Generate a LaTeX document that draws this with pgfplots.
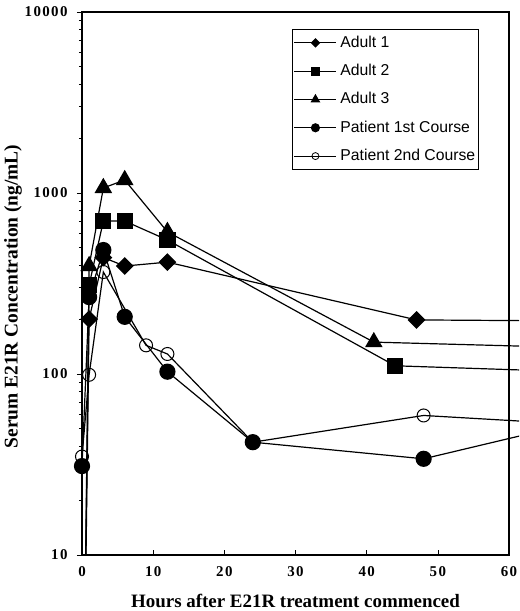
\documentclass[border=0pt]{standalone}
\usepackage{fontspec}
\setmainfont{Liberation Serif}
\newfontfamily\arial{Liberation Sans}
\newfontfamily\tickfont[LetterSpace=9]{Liberation Serif}
\usepackage{pgfplots}
\pgfplotsset{compat=1.18}

\begin{document}
\begin{tikzpicture}
\begin{axis}[
    scale only axis,
    width=437bp, height=543bp,
    ymode=log,
    xmin=0, xmax=61.4,
    ymin=10, ymax=10000,
    xtick={0,10,...,60},
    xtick pos=bottom, ytick pos=left,
    xtick align=inside, ytick align=outside,
    major tick length=5bp, minor tick length=3bp,
    tick style={black, line width=0.6bp},
    axis line style={draw=none},
    log ticks with fixed point,
    /pgf/number format/1000 sep={},
    /pgf/number format/assume math mode=true,
    ticklabel style={font=\tickfont\bfseries\fontsize{15}{17}\selectfont},
    xticklabel style={anchor=base, yshift=-22bp},
    yticklabel style={xshift=-6bp},
    every axis x label/.style={at={([yshift=-53bp]rel axis cs:0.4886,0)}, anchor=base,
        font=\bfseries\fontsize{19}{22}\selectfont},
    every axis y label/.style={at={([xshift=-69bp,yshift=-13bp]rel axis cs:0,0.5)}, rotate=90, anchor=center,
        font=\bfseries\fontsize{19.5}{22}\selectfont},
    xlabel={Hours after E21R treatment commenced},
    ylabel={Serum E21R Concentration (ng/mL)},
    legend style={at={(0.4805,0.9687)}, anchor=north west, draw=black, line width=0.8bp,
        fill=white, font=\arial\fontsize{15.8}{18}\selectfont,
        inner xsep=1.5bp, inner ysep=5.5bp, row sep=12.3bp, column sep=2bp,
        nodes={inner sep=1.5bp, text height=11bp, text depth=2bp}},
    legend cell align=left,
    legend image code/.code={\draw[mark repeat=2,mark phase=2] plot coordinates {(0bp,0bp) (21bp,0bp) (42bp,0bp)};},
]
\addlegendimage{black, line width=1.1bp, mark=square*, mark size=2.8bp, mark options={rotate=45}}
\addlegendentry{Adult 1}
\addlegendimage{black, line width=1.1bp, mark=square*, mark size=3.8bp}
\addlegendentry{Adult 2}
\addlegendimage{black, line width=1.1bp, mark=triangle*, mark size=4.5bp}
\addlegendentry{Adult 3}
\addlegendimage{black, line width=1.1bp, mark=*, mark size=4bp}
\addlegendentry{Patient 1st Course}
\addlegendimage{black, line width=1.1bp, mark=o, mark size=3.5bp, mark options={line width=0.8bp}}
\addlegendentry{Patient 2nd Course}

% Adult 1
\addplot[forget plot, black, line width=1.2bp, mark=square*, mark size=5.7bp, mark options={rotate=45}]
  coordinates {(0,0.2) (1,201) (3,440) (6,395) (12,415) (47,199) (72,196)};
% Adult 2
\addplot[forget plot, black, line width=1.2bp, mark=square*, mark size=7.5bp]
  coordinates {(0,0.2) (1,310) (3,700) (6,700) (12,550) (44,111) (72,102)};
% Adult 3
\addplot[forget plot, black, line width=1.2bp, mark=triangle*, mark size=9bp]
  coordinates {(0,0.2) (1,395) (3,1066) (6,1180) (12,610) (41,150) (72,139)};
% Patient 1st course
\addplot[forget plot, black, line width=1.2bp, mark=*, mark size=7.5bp]
  coordinates {(0,31) (1,266) (3,484) (6,207) (12,103) (24,42) (48,34) (72,57)};
% Patient 2nd course
\addplot[forget plot, black, line width=1.2bp, mark=o, mark size=6.5bp, mark options={line width=1bp}]
  coordinates {(0,35) (1,99) (3,366) (9,144) (12,129) (24,42) (48,59) (72,52)};

\coordinate (fr1) at (axis cs:0,10);
\coordinate (fr2) at (axis cs:60,10000);
\end{axis}
\draw[line width=1.4bp] (fr1) rectangle (fr2);
\pgfresetboundingbox
\path[use as bounding box] ([xshift=-82bp,yshift=-56bp]current axis.south west)
  rectangle ([xshift=1bp,yshift=12bp]current axis.north east);
\end{tikzpicture}
\end{document}
